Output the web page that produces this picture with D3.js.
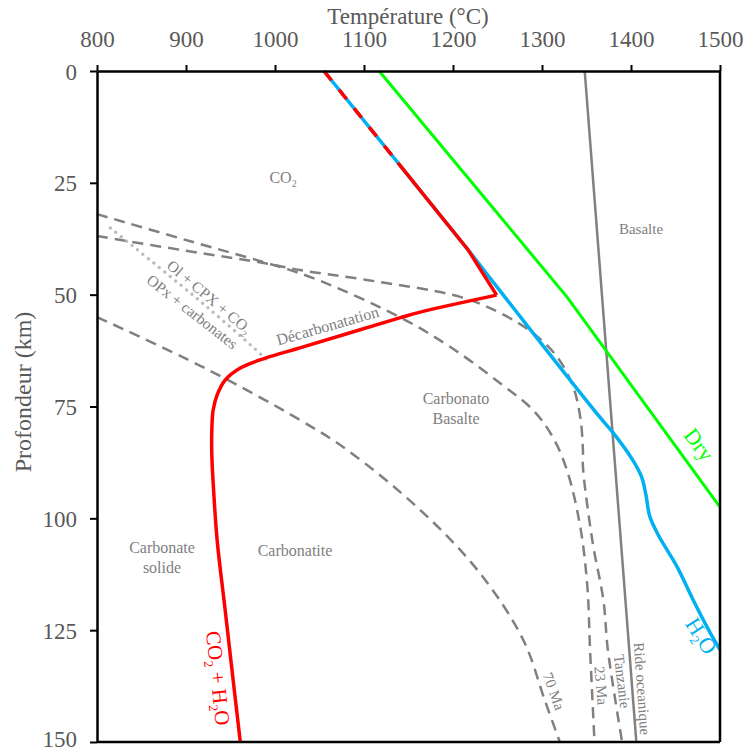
<!DOCTYPE html>
<html>
<head>
<meta charset="utf-8">
<script src="https://cdn.jsdelivr.net/npm/d3@7"></script>
<style>
  html, body { margin: 0; padding: 0; background: #fff; }
  svg { display: block; }
  svg text { font-family: "Liberation Serif", "DejaVu Serif", serif; }
</style>
</head>
<body>
<svg id="chart" width="745" height="753"></svg>
<script>
// ---------- data ----------
const xTicks = [800, 900, 1000, 1100, 1200, 1300, 1400, 1500];
const yTicks = [0, 25, 50, 75, 100, 125, 150];

// Solidus CO2 + H2O (red)
const co2h2oT = [1055, 1217, 1249, 1163, 1140, 1028, 989, 961, 944, 935, 930.5, 929, 929, 931, 935, 944, 953, 961];
const co2h2oD = [0, 40, 50.1, 53.9, 55.2, 61.9, 64.2, 66.4, 69.1, 72.4, 75.8, 80.3, 85.8, 93.7, 104.9, 120.5, 136.2, 150];

// Solidus H2O (blue)
const h2oT = [1055, 1217, 1290, 1365, 1380, 1402, 1412, 1417, 1421, 1430, 1452, 1470, 1489, 1500];
const h2oD = [0, 40, 58.6, 77.4, 80.9, 87.0, 90.8, 95.0, 99.5, 103.5, 110.9, 118.3, 125.6, 129.4];

// Dry solidus (green)
const dryT = [1117, 1328, 1500];
const dryD = [0, 50.5, 97.5];

// Oceanic ridge geotherm (solid grey)
const ridgeT = [1348, 1406];
const ridgeD = [0, 150];

// Geotherms (dashed grey)
const ma70T = [800, 919, 1028, 1081, 1163, 1230, 1279, 1303, 1320];
const ma70D = [55.0, 66.2, 78.0, 84.7, 98.1, 112.2, 127.2, 140.6, 150];

const ma23T = [800, 916, 987, 1043, 1140, 1197, 1253, 1290, 1312, 1328, 1343, 1351, 1354, 1359];
const ma23D = [32.0, 38.7, 42.7, 46.3, 55.0, 61.7, 69.8, 75.8, 81.8, 89.2, 101.9, 115.4, 129.4, 150];

const tanzT = [800, 916, 987, 1028, 1103, 1208, 1253, 1290, 1317, 1335, 1343, 1346, 1346, 1357, 1369, 1374, 1390];
const tanzD = [36.9, 40.7, 42.9, 44.5, 46.7, 50.5, 54.1, 58.6, 63.9, 70.6, 77.4, 84.7, 88.5, 105.5, 118.3, 129.4, 150];

// Decarbonation reaction (dotted)
const decarbT = [815, 924, 994];
const decarbD = [35.1, 52.8, 65.1];

// ---------- chart ----------
const svg = d3.select("#chart");
const x = d3.scaleLinear().domain([800, 1500]).range([97, 720]);
const y = d3.scaleLinear().domain([0, 150]).range([71, 742]);

const zip = (T, D) => T.map((t, i) => [t, D[i]]);
const smooth = d3.line().x(d => x(d[0])).y(d => y(d[1])).curve(d3.curveCatmullRom.alpha(0.5));
const straight = d3.line().x(d => x(d[0])).y(d => y(d[1]));

const plot = svg.append("g");

// dotted reaction line
plot.append("path").attr("d", smooth(zip(decarbT, decarbD)))
  .attr("fill", "none").attr("stroke", "#bdbdbd").attr("stroke-width", 3.5)
  .attr("stroke-linecap", "round").attr("stroke-dasharray", "0,7");

// dashed geotherms
[[ma70T, ma70D], [ma23T, ma23D], [tanzT, tanzD]].forEach(([T, D]) => {
  plot.append("path").attr("d", smooth(zip(T, D)))
    .attr("fill", "none").attr("stroke", "#808080").attr("stroke-width", 2.5)
    .attr("stroke-dasharray", "11,7");
});

// ridge
plot.append("path").attr("d", straight(zip(ridgeT, ridgeD)))
  .attr("fill", "none").attr("stroke", "#808080").attr("stroke-width", 2.5);

// dry
plot.append("path").attr("d", straight(zip(dryT, dryD)))
  .attr("fill", "none").attr("stroke", "#00ff00").attr("stroke-width", 3);

// H2O
const h2o = zip(h2oT, h2oD);
plot.append("path").attr("d", straight(h2o.slice(0, 3)))
  .attr("fill", "none").attr("stroke", "#00b0f0").attr("stroke-width", 3.5);
plot.append("path").attr("d", smooth(h2o.slice(2)))
  .attr("fill", "none").attr("stroke", "#00b0f0").attr("stroke-width", 3.5);

// CO2 + H2O
const red = zip(co2h2oT, co2h2oD);
plot.append("path").attr("d", straight(red.slice(0, 3)))
  .attr("fill", "none").attr("stroke", "#ff0000").attr("stroke-width", 3.5)
  .attr("stroke-dasharray", "12,12,12,12,12,12,12,12,12,10,3000");
plot.append("path").attr("d", smooth(red.slice(2)))
  .attr("fill", "none").attr("stroke", "#ff0000").attr("stroke-width", 3.5);

// ---------- axes ----------
const axTop = svg.append("g").attr("transform", `translate(0,${y(0)})`)
  .call(d3.axisTop(x).tickValues(xTicks).tickFormat(d3.format("d"))
    .tickSize(6).tickSizeOuter(0).tickPadding(18));
const axLeft = svg.append("g").attr("transform", `translate(${x(800)},0)`)
  .call(d3.axisLeft(y).tickValues(yTicks).tickFormat(d3.format("d"))
    .tickSize(7).tickSizeOuter(0).tickPadding(13));
[axTop, axLeft].forEach(a => {
  a.attr("font-family", null).attr("font-size", null);
  a.select(".domain").attr("stroke", "#000").attr("stroke-width", 2.5);
  a.selectAll(".tick line").attr("stroke", "#000").attr("stroke-width", 2);
  a.selectAll(".tick text").attr("fill", "#595959").style("font-size", "23px");
});
axLeft.selectAll(".tick text").attr("dy", d => d === 150 ? "0.2em" : "0.35em");
// frame right & bottom
svg.append("line").attr("x1", x(1500)).attr("x2", x(1500)).attr("y1", y(0)).attr("y2", y(150))
  .attr("stroke", "#000").attr("stroke-width", 2.5);
svg.append("line").attr("x1", x(800)).attr("x2", x(1500)).attr("y1", y(150)).attr("y2", y(150))
  .attr("stroke", "#000").attr("stroke-width", 2.5);

// axis titles
svg.append("text").attr("x", 408).attr("y", 24).attr("text-anchor", "middle")
  .attr("fill", "#595959").style("font-size", "23px").text("Température (°C)");
svg.append("text").attr("transform", "translate(31,392) rotate(-90)").attr("text-anchor", "middle")
  .attr("fill", "#595959").style("font-size", "24px").text("Profondeur (km)");

// ---------- annotations ----------
// parts: [text, dy, isSubscript]
function label(cx, cy, rot, size, color, parts) {
  const t = svg.append("text").attr("text-anchor", "middle")
    .attr("transform", `translate(${cx},${cy}) rotate(${rot})`)
    .attr("fill", color).style("font-size", size + "px");
  parts.forEach(p => {
    const s = t.append("tspan").text(p[0]);
    if (p[1]) s.attr("dy", p[1]);
    if (p[2]) s.style("font-size", (size * 0.62) + "px");
  });
  return t;
}
const G = "#808080";
label(283, 183, 0, 16, G, [["CO"], ["2", 4, true]]);
label(641, 234, 0, 15, G, [["Basalte"]]);
label(456, 404, 0, 16, G, [["Carbonato"]]);
label(456, 424, 0, 16, G, [["Basalte"]]);
label(162, 553, 0, 16, G, [["Carbonate"]]);
label(162, 573, 0, 16, G, [["solide"]]);
label(295, 556, 0, 16, G, [["Carbonatite"]]);
label(329, 331, -16, 16, G, [["Décarbonatation"]]);
label(206, 301, 40, 15.5, G, [["Ol + CPX + CO"], ["2", 4, true]]);
label(189, 316, 38, 15.5, G, [["OPx + carbonates"]]);
label(693, 449, 53, 22, "#00ff00", [["Dry"]]);
label(695, 640, 57, 22, "#00b0f0", [["H"], ["2", 5, true], ["O", -5]]);
label(211, 679, 84, 21, "#ff0000", [["CO"], ["2", 5, true], [" + H", -5], ["2", 5, true], ["O", -5]]);
label(549, 693, 70, 15, G, [["70 Ma"]]);
label(596, 686, 85, 15, G, [["23 Ma"]]);
label(617, 682, 83, 15, G, [["Tanzanie"]]);
label(637, 689, 86, 15, G, [["Ride oceanique"]]);
</script>
</body>
</html>
